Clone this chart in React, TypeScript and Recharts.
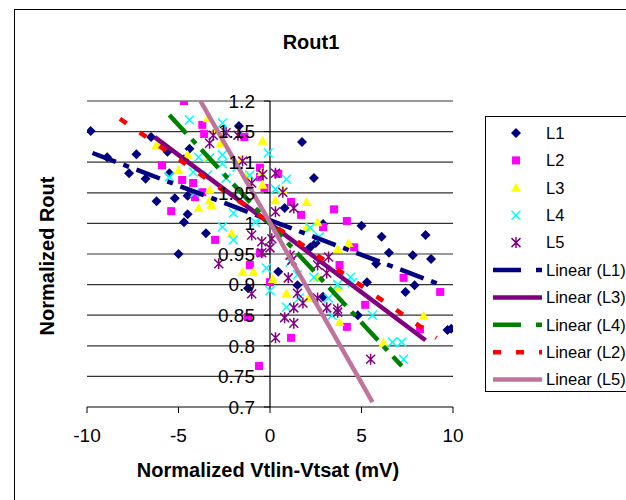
import React from 'react';
import { ScatterChart, Scatter, XAxis, YAxis, CartesianGrid, ReferenceLine } from 'recharts';

const FONT = '"Liberation Sans", Arial, sans-serif';

const xTicks = [-10, -5, 0, 5, 10];
const yTicks = [0.7, 0.75, 0.8, 0.85, 0.9, 0.95, 1, 1.05, 1.1, 1.15, 1.2];
const yTickLabels = ['0.7', '0.75', '0.8', '0.85', '0.9', '0.95', '1', '1.05', '1.1', '1.15', '1.2'];
const gridValues = [0.75, 0.8, 0.85, 0.9, 0.95, 1, 1.05, 1.1, 1.15, 1.2];

// measured points, [x, y]
const l1Points = [
  [-9.8, 1.151], [-8.9, 1.108], [-7.7, 1.082], [-7.3, 1.113], [-6.8, 1.073], [-6.5, 1.141],
  [-6.2, 1.036], [-5.6, 1.117], [-5.5, 1.082], [-5.2, 1.041], [-5.0, 0.95], [-4.7, 1.002],
  [-4.5, 1.045], [-4.5, 1.015], [-4.4, 1.122], [-4.7, 1.105], [-3.5, 0.984], [-1.7, 1.159],
  [-1.2, 0.894], [0.45, 0.921], [0.8, 1.025], [1.5, 0.899], [1.75, 1.133], [2.2, 0.961],
  [2.4, 1.074], [2.5, 0.968], [2.9, 0.999], [2.9, 0.88], [4.8, 0.85], [5.0, 0.996],
  [5.3, 0.904], [5.8, 0.934], [6.1, 0.978], [6.5, 0.952], [7.4, 0.888], [7.8, 0.948],
  [7.9, 0.899], [8.5, 0.981], [8.8, 0.942], [9.7, 0.826], [9.9, 0.828],
];
const l2Points = [
  [-4.7, 1.2], [-3.7, 1.161], [-3.6, 1.146], [-5.9, 1.095], [-4.8, 1.071], [-5.4, 1.02],
  [-3.7, 1.051], [-4.2, 1.066], [-4.1, 1.043], [-1.4, 1.141], [-0.55, 1.091], [-0.55, 1.076],
  [-0.3, 1.058], [-3.0, 0.973], [-1.1, 0.932], [-0.55, 0.952], [-1.2, 0.847], [-0.6, 0.767],
  [0.0, 0.904], [0.45, 1.081], [1.15, 1.035], [1.7, 1.014], [2.9, 0.994], [3.5, 1.023],
  [4.2, 1.004], [4.6, 0.961], [3.8, 0.932], [5.2, 0.867], [4.2, 0.831], [1.15, 0.813],
  [7.3, 0.911], [9.3, 0.888], [8.2, 0.827],
];
const l3Points = [
  [-6.2, 1.128], [-5.0, 1.087], [-4.5, 1.112], [-3.4, 1.172], [-3.4, 1.107], [-3.0, 1.153],
  [-2.7, 1.131], [-1.6, 1.104], [-1.3, 1.079], [-0.45, 1.084], [-0.4, 1.135], [-0.4, 1.063],
  [-3.9, 1.025], [-3.2, 1.03], [-3.3, 1.038], [-3.3, 1.055], [-2.1, 0.984], [-1.5, 0.921],
  [-0.9, 0.921], [0.15, 0.909], [0.3, 1.038], [0.7, 1.055], [2.0, 1.035], [2.6, 1.002],
  [2.0, 0.994], [0.9, 0.886], [2.1, 0.878], [2.6, 0.911], [3.7, 0.958], [4.3, 0.968],
  [3.7, 0.896], [3.8, 0.839], [6.2, 0.805], [8.4, 0.849],
];
const l4Points = [
  [-4.4, 1.169], [-2.6, 1.164], [-0.1, 1.115], [-5.5, 1.076], [-3.9, 1.108], [-3.3, 1.107],
  [-2.6, 1.098], [-2.6, 1.112], [-2.4, 1.074], [-4.1, 1.05], [-3.4, 1.079], [-4.2, 1.084],
  [-1.8, 1.092], [-1.1, 1.079], [-2.0, 1.017], [-2.6, 0.994], [-2.0, 0.973], [-0.8, 1.002],
  [-0.45, 1.009], [-0.2, 0.927], [0.9, 1.072], [0.3, 1.056], [2.2, 0.993], [2.7, 0.978],
  [1.1, 0.937], [1.5, 0.916], [0.9, 0.863], [1.6, 0.878], [2.4, 0.912], [3.2, 0.878],
  [3.4, 0.85], [3.7, 0.9], [4.4, 0.912], [4.5, 0.903], [5.6, 0.85], [6.7, 0.806],
  [7.2, 0.806], [7.3, 0.778], [0.0, 0.89],
];
const l5Points = [
  [-3.3, 1.131], [-3.1, 1.144], [-2.4, 1.148], [-1.75, 1.144], [-1.5, 1.102], [-1.0, 1.066],
  [-0.4, 1.08], [-1.0, 0.981], [-0.45, 0.97], [0.1, 0.975], [-2.8, 0.934], [-1.0, 0.885],
  [0.3, 0.813], [-0.45, 0.952], [0.3, 1.082], [0.7, 1.051], [1.3, 1.025], [0.3, 1.019],
  [3.2, 0.945], [2.6, 0.932], [1.2, 0.94], [1.0, 0.911], [3.7, 0.855], [1.3, 0.837],
  [0.8, 0.846], [5.5, 0.778], [1.5, 0.886], [1.3, 0.862], [3.1, 0.919], [2.6, 0.878],
  [1.8, 0.87], [1.1, 0.948], [3.1, 0.862], [3.7, 0.86], [0.0, 0.96],
];

// trend line end points
const trendL1 = [[-9.7, 1.115], [9.3, 0.9]];
const trendL3 = [[-6.3, 1.141], [8.5, 0.809]];
const trendL4 = [[-5.5, 1.177], [7.2, 0.767]];
const trendL2 = [[-8.2, 1.171], [9.1, 0.813]];
const trendL5 = [[-3.8, 1.2], [5.6, 0.708]];

const toXY = (arr: number[][]) => arr.map(([x, y]) => ({ x, y }));

const Diamond = ({ cx, cy }: any) => (
  <polygon points={`${cx},${cy - 5} ${cx + 5},${cy} ${cx},${cy + 5} ${cx - 5},${cy}`} fill="#000080" />
);
const Square = ({ cx, cy }: any) => <rect x={cx - 4} y={cy - 4} width={8} height={8} fill="#FF00FF" />;
const Triangle = ({ cx, cy }: any) => (
  <polygon points={`${cx},${cy - 5} ${cx + 5},${cy + 4} ${cx - 5},${cy + 4}`} fill="#FFFF00" />
);
const Cross = ({ cx, cy }: any) => (
  <path d={`M${cx - 4.5},${cy - 4.5}L${cx + 4.5},${cy + 4.5}M${cx + 4.5},${cy - 4.5}L${cx - 4.5},${cy + 4.5}`} stroke="#00FFFF" strokeWidth={1.5} />
);
const Star = ({ cx, cy }: any) => (
  <path
    d={`M${cx - 4.5},${cy - 4.5}L${cx + 4.5},${cy + 4.5}M${cx + 4.5},${cy - 4.5}L${cx - 4.5},${cy + 4.5}M${cx},${cy - 5.5}L${cx},${cy + 5.5}`}
    stroke="#800080"
    strokeWidth={1.5}
  />
);
const NoShape = () => <g />;

const series = [
  { name: 'L1', data: l1Points, Shape: Diamond },
  { name: 'L2', data: l2Points, Shape: Square },
  { name: 'L3', data: l3Points, Shape: Triangle },
  { name: 'L4', data: l4Points, Shape: Cross },
  { name: 'L5', data: l5Points, Shape: Star },
];

const trends = [
  { name: 'Linear (L1)', data: trendL1, stroke: '#000080', dash: '25 8 6 8', legendDash: '28 15 6 15' },
  { name: 'Linear (L3)', data: trendL3, stroke: '#800080', dash: undefined, legendDash: undefined },
  { name: 'Linear (L4)', data: trendL4, stroke: '#008000', dash: '25 8 6 8', legendDash: '28 15 6 15' },
  { name: 'Linear (L2)', data: trendL2, stroke: '#FF0000', dash: '8 16', legendDash: '8 15' },
  { name: 'Linear (L5)', data: trendL5, stroke: '#C0739C', dash: undefined, legendDash: undefined },
];

function LegendBox() {
  const rowY = (i: number) => 16 + i * 27.4;
  return (
    <div style={{ position: 'absolute', left: 485, top: 116, width: 160, height: 274, border: '1px solid #000', background: '#fff' }}>
      <svg width={160} height={274} style={{ display: 'block' }}>
        {series.map((s, i) => (
          <g key={s.name}>
            <s.Shape cx={30} cy={rowY(i)} />
            <text x={60} y={rowY(i)} dy="0.35em" fontSize={16.5} fontFamily={FONT} fill="#000">{s.name}</text>
          </g>
        ))}
        {trends.map((t, j) => {
          const y = rowY(j + 5);
          return (
            <g key={t.name}>
              <line x1={7} x2={56} y1={y} y2={y} stroke={t.stroke} strokeWidth={4.5} strokeDasharray={t.legendDash} />
              <text x={60} y={y} dy="0.35em" fontSize={16.5} fontFamily={FONT} fill="#000">{t.name}</text>
            </g>
          );
        })}
      </svg>
    </div>
  );
}

export default function App() {
  return (
    <div style={{ position: 'absolute', left: 0, top: 0, width: 626, height: 500, overflow: 'hidden', background: '#fff' }}>
      <div style={{ position: 'absolute', left: 14, top: 9, width: 700, height: 600, border: '1px solid #000' }} />
      <div style={{ position: 'absolute', left: 0, top: 0 }}>
        <ScatterChart width={626} height={500} margin={{ top: 101, right: 173, bottom: 63, left: 87 }}>
          <CartesianGrid vertical={false} horizontalValues={gridValues} stroke="#333" strokeWidth={1.2} />
          <XAxis
            type="number"
            dataKey="x"
            domain={[-10, 10]}
            ticks={xTicks}
            allowDataOverflow
            height={30}
            tickSize={6}
            tickMargin={16}
            axisLine={{ stroke: '#000' }}
            tickLine={{ stroke: '#000' }}
            tick={{ fill: '#000', fontSize: 19, fontFamily: FONT }}
          />
          <YAxis type="number" dataKey="y" domain={[0.7, 1.2]} ticks={yTicks} allowDataOverflow hide />
          <ReferenceLine x={0} stroke="#000" strokeWidth={1.2} />
          {yTicks.map((t, i) => (
            <ReferenceLine
              key={t}
              segment={[{ x: -0.33, y: t }, { x: 0, y: t }]}
              stroke="#000"
              label={{ value: yTickLabels[i], position: 'left', offset: 9, fill: '#000', fontSize: 19, fontFamily: FONT }}
            />
          ))}
          {series.map((s) => (
            <Scatter
              key={s.name}
              name={s.name}
              data={toXY(s.data)}
              isAnimationActive={false}
              shape={(p: any) => <s.Shape cx={p.cx} cy={p.cy} />}
            />
          ))}
          {trends.map((t) => (
            <Scatter
              key={t.name}
              name={t.name}
              data={toXY(t.data)}
              isAnimationActive={false}
              line={{ stroke: t.stroke, strokeWidth: 4.5, strokeDasharray: t.dash }}
              shape={NoShape}
            />
          ))}
        </ScatterChart>
      </div>
      <svg width={626} height={500} style={{ position: 'absolute', left: 0, top: 0, pointerEvents: 'none' }}>
        <text x={311} y={42} textAnchor="middle" dominantBaseline="central" fontSize={20} fontWeight="bold" fontFamily={FONT}>Rout1</text>
        <text x={268} y={470} textAnchor="middle" dominantBaseline="central" fontSize={20} fontWeight="bold" fontFamily={FONT}>Normalized Vtlin-Vtsat (mV)</text>
        <text
          x={47}
          y={256}
          textAnchor="middle"
          dominantBaseline="central"
          fontSize={20}
          fontWeight="bold"
          fontFamily={FONT}
          transform="rotate(-90 47 256)"
        >
          Normalized Rout
        </text>
      </svg>
      <LegendBox />
    </div>
  );
}
